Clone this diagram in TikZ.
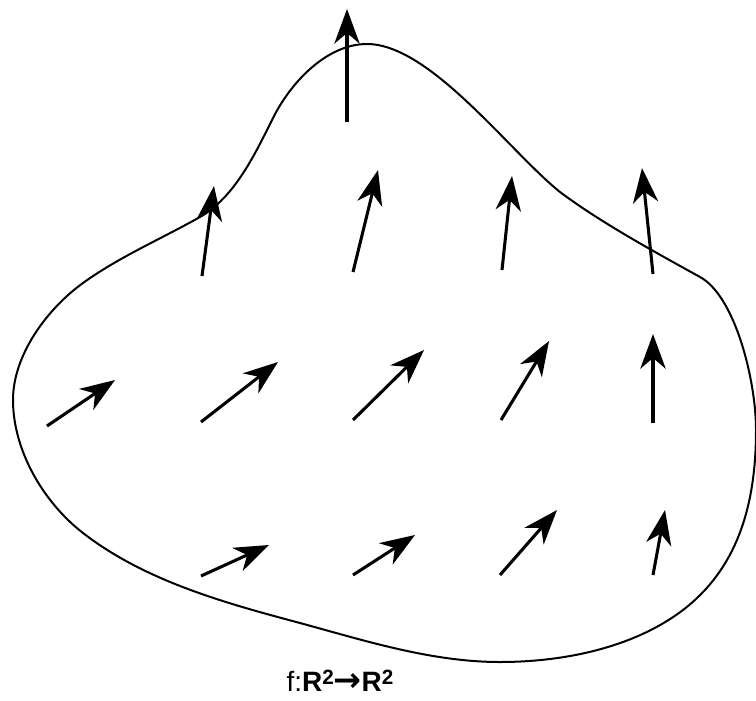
\documentclass[tikz,border=0pt]{standalone}
\usepackage{fontspec}
\setmainfont{Liberation Sans}
\newfontfamily\arrowfont{DejaVu Sans}
\usetikzlibrary{arrows.meta}
\tikzset{
    vec/.style={
        -{Stealth[length=26pt,width=19pt,inset=8pt]},line width=2.3pt,black
    },
    region/.style={line width=1.5pt,black},
    maplabel/.style={font=\fontsize{21}{23}\selectfont,inner sep=0pt,anchor=base}
}
\newcommand{\sqr}{\raisebox{4.6pt}{\fontsize{15.5}{15.5}\selectfont\bfseries 2}}
\newcommand{\maparrow}{\raisebox{-0.5pt}{\arrowfont\bfseries\fontsize{25}{25}\selectfont →}}

\begin{document}
\begin{tikzpicture}[x=0.75pt,y=-0.75pt]
\useasboundingbox (0,0) rectangle (756,700);

% domain
\draw[region] (367,44)
    .. controls (430,44) and (510,152) .. (560,192)
    .. controls (600,222) and (653,251) .. (700,277)
    .. controls (735,296) and (756,380) .. (756,430)
    .. controls (756,510) and (735,570) .. (683,610)
    .. controls (633,648) and (563,662) .. (500,662)
    .. controls (432,662) and (366,641) .. (300,623)
    .. controls (225,603) and (145,581) .. (83,533)
    .. controls (43,502) and (13,450) .. (13,400)
    .. controls (13,355) and (47,309) .. (83,283)
    .. controls (119,257) and (161,239) .. (200,217)
    .. controls (235,197) and (255,154) .. (273,118)
    .. controls (291,82) and (327,44) .. cycle;

% vector field
\foreach \xa/\ya/\xb/\yb in {
347/122/347/9, 202/276/214/186, 353/272/378/170, 502/270/512/176, 653/274/642/168,
47/426/115/380, 201/422/278/362, 353/420/424/350, 501/420/549/341, 653/423/653/334,
201/576/269/545, 353/575/415/535, 500/575/557/510, 653/575/665/510}
    \draw[vec] (\xa,\ya) -- (\xb,\yb);

\node[maplabel] (lbl) at (340,691)
{f:\textbf{R}\sqr\maparrow\textbf{R}\sqr};

\end{tikzpicture}
\end{document}
